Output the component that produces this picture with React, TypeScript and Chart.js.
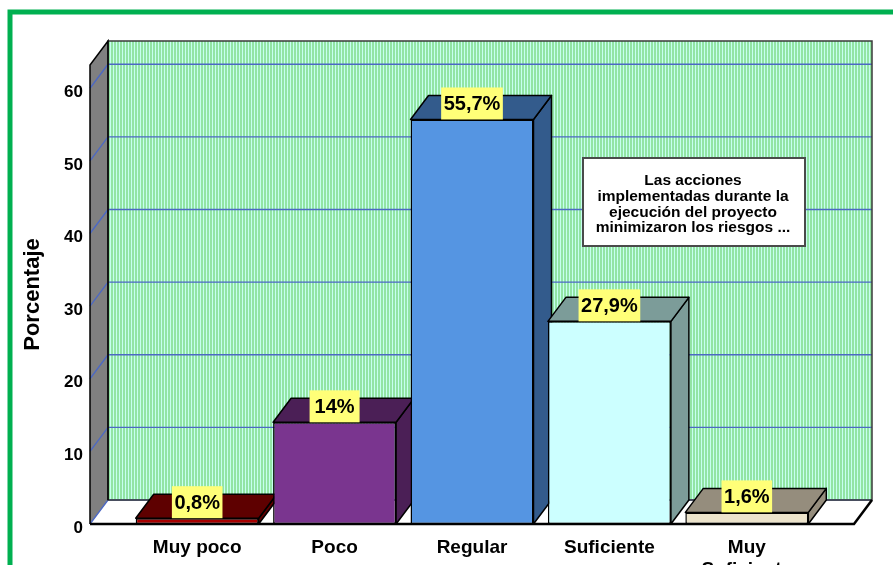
import { useEffect, useRef } from 'react';
import { Chart, registerables } from 'chart.js';

Chart.register(...registerables);

// Response categories (the last one wraps onto two lines)
const categories: (string | string[])[] = ['Muy poco', 'Poco', 'Regular', 'Suficiente', ['Muy', 'Suficiente']];
// Percentage of respondents per category
const percentages = [0.8, 14, 55.7, 27.9, 1.6];
const valueLabels = ['0,8%', '14%', '55,7%', '27,9%', '1,6%'];
const frontColors = ['#a80000', '#7a358f', '#5595e2', '#ccffff', '#ece3cb'];
const shadeColors = ['#5e0000', '#4b1f56', '#335b8c', '#7c9c99', '#958d7d'];
const legendLines = ['Las acciones', 'implementadas durante la', 'ejecución del proyecto', 'minimizaron los riesgos ...'];
const yAxisTitle = 'Porcentaje';

const FONT = "'Liberation Sans', Arial, sans-serif";
const DX = 18; // depth offset to the right
const DY = 24; // depth offset upwards

function stripes(ctx: CanvasRenderingContext2D): CanvasPattern | string {
  const c = document.createElement('canvas');
  c.width = 3;
  c.height = 1;
  const g = c.getContext('2d');
  if (!g) return '#a8ecb8';
  g.fillStyle = '#92e4a4';
  g.fillRect(0, 0, 2, 1);
  g.fillStyle = '#c6fff0';
  g.fillRect(2, 0, 1, 1);
  return ctx.createPattern(c, 'repeat') || '#a8ecb8';
}

function poly(ctx: CanvasRenderingContext2D, pts: number[][], fill: string | CanvasPattern, stroke?: string, lw = 1.5) {
  ctx.beginPath();
  pts.forEach(([x, y], i) => (i ? ctx.lineTo(x, y) : ctx.moveTo(x, y)));
  ctx.closePath();
  ctx.fillStyle = fill;
  ctx.fill();
  if (stroke) {
    ctx.strokeStyle = stroke;
    ctx.lineWidth = lw;
    ctx.lineJoin = 'round';
    ctx.stroke();
  }
}

const boxes3d = {
  id: 'boxes3d',
  beforeDraw(chart: any) {
    const { ctx, width, height } = chart;
    ctx.save();
    ctx.fillStyle = '#ffffff';
    ctx.fillRect(0, 0, width, height);
    // green frame around the figure
    ctx.strokeStyle = '#00b050';
    ctx.lineWidth = 5;
    ctx.beginPath();
    ctx.moveTo(10, height + 10);
    ctx.lineTo(10, 12);
    ctx.lineTo(width + 10, 12);
    ctx.stroke();
    ctx.restore();
  },
  beforeDatasetsDraw(chart: any) {
    const { ctx, chartArea: a, scales } = chart;
    const ys = scales.y;
    const L = a.left, R = a.right, T = a.top, B = a.bottom;
    ctx.save();
    // back wall
    ctx.fillStyle = stripes(ctx);
    ctx.fillRect(L + DX, T - DY, R - L, B - T);
    // left wall
    poly(ctx, [[L, T], [L + DX, T - DY], [L + DX, B - DY], [L, B]], '#808080');
    // floor
    poly(ctx, [[L, B], [R, B], [R + DX, B - DY], [L + DX, B - DY]], '#ffffff');
    // grid lines on the left wall and the back wall
    ctx.strokeStyle = '#4c68c4';
    ctx.lineWidth = 1.3;
    ys.ticks.forEach((t: any) => {
      const py = ys.getPixelForValue(t.value);
      ctx.beginPath();
      ctx.moveTo(L, py);
      ctx.lineTo(L + DX, py - DY);
      ctx.lineTo(R + DX, py - DY);
      ctx.stroke();
    });
    // wall outlines
    ctx.strokeStyle = '#3a3a3a';
    ctx.lineWidth = 1.5;
    ctx.strokeRect(L + DX, T - DY, R - L, B - T);
    ctx.strokeStyle = '#000';
    ctx.beginPath();
    ctx.moveTo(L, B);
    ctx.lineTo(L, T);
    ctx.lineTo(L + DX, T - DY);
    ctx.lineTo(L + DX, B - DY);
    ctx.stroke();
    // floor edges
    ctx.lineWidth = 2.5;
    ctx.beginPath();
    ctx.moveTo(L, B);
    ctx.lineTo(R, B);
    ctx.lineTo(R + DX, B - DY);
    ctx.stroke();

    // tops and sides of the bars
    const meta = chart.getDatasetMeta(0);
    meta.data.forEach((bar: any, i: number) => {
      const { x, y, base, width } = bar.getProps(['x', 'y', 'base', 'width'], true);
      const l = x - width / 2;
      const r = x + width / 2;
      const c = shadeColors[i];
      poly(ctx, [[r, y], [r + DX, y - DY], [r + DX, base - DY], [r, base]], c, '#000', 1.5);
      poly(ctx, [[l, y], [r, y], [r + DX, y - DY], [l + DX, y - DY]], c, '#000', 1.5);
    });
    ctx.restore();
  },
  afterDatasetsDraw(chart: any) {
    const { ctx, chartArea: a } = chart;
    ctx.save();
    // value labels
    const meta = chart.getDatasetMeta(0);
    ctx.font = `bold 20px ${FONT}`;
    ctx.textAlign = 'center';
    ctx.textBaseline = 'middle';
    meta.data.forEach((bar: any, i: number) => {
      const { x, y } = bar.getProps(['x', 'y'], true);
      const text = valueLabels[i];
      const w = Math.max(ctx.measureText(text).width + 5, 50);
      const h = 32;
      ctx.fillStyle = '#ffff78';
      ctx.fillRect(x - w / 2, y - h, w, h);
      ctx.fillStyle = '#000';
      ctx.fillText(text, x, y - h / 2 + 1);
    });

    // legend box
    const bx = a.left + 493;
    const by = a.top + 93;
    const bw = 222;
    const bh = 88;
    ctx.fillStyle = '#ffffff';
    ctx.fillRect(bx, by, bw, bh);
    ctx.strokeStyle = '#4a4a4a';
    ctx.lineWidth = 2;
    ctx.strokeRect(bx, by, bw, bh);
    ctx.fillStyle = '#000';
    ctx.font = `bold 15.5px ${FONT}`;
    legendLines.forEach((line, k) => {
      ctx.fillText(line, bx + bw / 2 - 1, by + 23 + k * 15.7);
    });
    ctx.restore();
  },
};

export default function App() {
  const ref = useRef<HTMLCanvasElement>(null);

  useEffect(() => {
    document.body.style.margin = '0';
    if (!ref.current) return;
    const chart = new Chart(ref.current, {
      type: 'bar',
      data: {
        datasets: [
          {
            data: percentages.map((v, i) => ({ x: i, y: v })),
            backgroundColor: frontColors,
            borderColor: '#000',
            borderWidth: 1.5,
            borderSkipped: false,
            categoryPercentage: 1,
            barPercentage: 0.895,
          },
        ],
      },
      options: {
        animation: false,
        responsive: true,
        maintainAspectRatio: false,
        layout: { padding: { left: 0, right: 39, top: 65, bottom: 0 } },
        plugins: {
          legend: { display: false },
          tooltip: { enabled: false },
          title: { display: false },
        },
        scales: {
          x: {
            type: 'linear',
            min: -0.78,
            max: 4.78,
            offset: false,
            grid: { display: false, drawTicks: false },
            border: { display: false },
            ticks: {
              stepSize: 1,
              includeBounds: false,
              autoSkip: false,
              maxRotation: 0,
              padding: 12,
              color: '#000',
              font: { family: FONT, size: 19, weight: 'bold' },
              callback: (v: any) => categories[v as number] ?? '',
            },
            afterFit: (s: any) => {
              s.height = 41;
            },
          },
          y: {
            min: 0,
            max: 63.2,
            grid: { display: false, drawTicks: false },
            border: { display: false },
            ticks: {
              stepSize: 10,
              includeBounds: false,
              padding: 7,
              labelOffset: 4,
              color: '#000',
              font: { family: FONT, size: 17, weight: 'bold' },
            },
            title: {
              display: true,
              text: yAxisTitle,
              color: '#000',
              font: { family: FONT, size: 22, weight: 'bold' },
              padding: { top: 20, bottom: 0 },
            },
            afterFit: (s: any) => {
              s.width = 90;
            },
          },
        },
      } as any,
      plugins: [boxes3d],
    });
    return () => chart.destroy();
  }, []);

  return (
    <div style={{ width: 893, height: 565, position: 'relative' }}>
      <canvas ref={ref} />
    </div>
  );
}
